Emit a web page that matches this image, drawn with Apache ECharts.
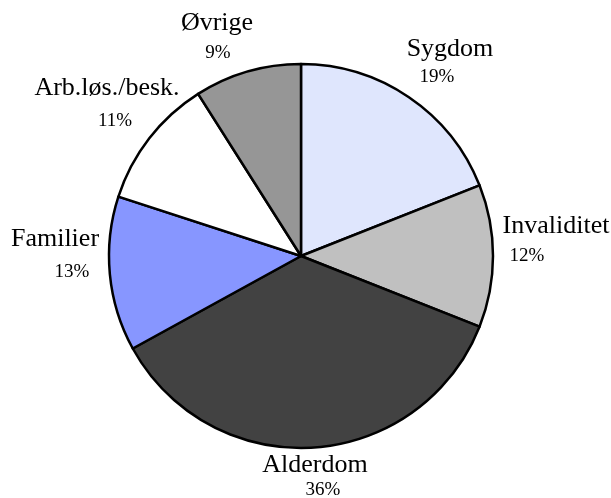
<!DOCTYPE html>
<html>
<head>
<meta charset="utf-8">
<script src="https://cdn.jsdelivr.net/npm/echarts@6/dist/echarts.min.js"></script>
<style>html,body{margin:0;padding:0;background:#fff}#c{width:611px;height:498px}</style>
</head>
<body>
<div id="c"></div>
<script>
const categories = ['Sygdom', 'Invaliditet', 'Alderdom', 'Familier', 'Arb.løs./besk.', 'Øvrige'];
const values = [19, 12, 36, 13, 11, 9];
const colors = ['#dfe6fd', '#c0c0c0', '#424242', '#8796ff', '#ffffff', '#969696'];
// label positions (layout only)
const namePos = [[450, 49], [556, 226], [315, 465], [55, 239], [107, 88], [217, 23]];
const pctPos = [[437, 77], [527, 256], [323, 490], [72, 272], [115, 121], [218, 53]];

const chart = echarts.init(document.getElementById('c'));
const data = categories.map((n, i) => ({ name: n, value: values[i], itemStyle: { color: colors[i] } }));
const font = '"Liberation Serif", "Times New Roman", serif';
chart.setOption({
  animation: false,
  series: [
    {
      type: 'pie',
      center: [301, 256],
      radius: [0, 192],
      startAngle: 90,
      clockwise: true,
      data: data,
      itemStyle: { borderColor: '#000', borderWidth: 2.5 },
      label: { show: true, position: 'outside', overflow: 'none', formatter: '{b}', color: '#000', fontFamily: font, fontSize: 26 },
      labelLine: { show: false },
      labelLayout: function (p) {
        const pos = namePos[p.dataIndex];
        return { x: pos[0], y: pos[1], align: 'center', verticalAlign: 'middle', width: 300 };
      },
      emphasis: { disabled: true }
    },
    {
      type: 'pie',
      center: [301, 256],
      radius: [0, 192],
      startAngle: 90,
      clockwise: true,
      silent: true,
      data: categories.map((n, i) => ({ name: n, value: values[i] })),
      itemStyle: { color: 'rgba(0,0,0,0)', borderWidth: 0 },
      label: { show: true, position: 'outside', overflow: 'none', formatter: '{c}%', color: '#000', fontFamily: font, fontSize: 19 },
      labelLine: { show: false },
      labelLayout: function (p) {
        const pos = pctPos[p.dataIndex];
        return { x: pos[0], y: pos[1], align: 'center', verticalAlign: 'middle', width: 200 };
      },
      emphasis: { disabled: true }
    }
  ]
});
</script>
</body>
</html>
